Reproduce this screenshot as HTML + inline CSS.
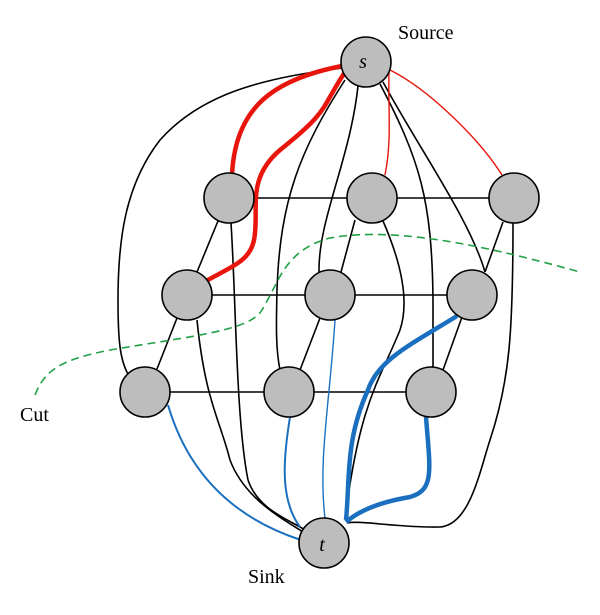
<!DOCTYPE html>
<html><head><style>body{margin:0;background:#fff}</style></head><body>
<svg width="600" height="610" viewBox="0 0 600 610" xmlns="http://www.w3.org/2000/svg" font-family="Liberation Serif, serif">
<g fill="none" stroke="#000" stroke-width="1.6">
<path d="M343,68 C260,78 200,95 160,140 C125,185 118,240 118,300 C118,340 120,360 128,374"/>
<path d="M345,80 C300,150 280,200 277,290 C276,330 276,350 280,370"/>
<path d="M358,86 C350,160 318,220 319,272"/>
<path d="M380,84 C420,160 432,200 433,300 L433,368"/>
<path d="M383,82 C420,150 470,220 485,272"/>
<path d="M231,223 C236,300 236,420 248,480 C258,510 290,520 305,530"/>
<path d="M197,320 C205,400 220,420 230,460 C245,500 285,520 303,532"/>
<path d="M383,221 C400,260 410,300 400,330 C380,380 360,400 345,519"/>
<path d="M513,222 C513,330 510,380 490,440 C480,470 470,525 440,527 C400,528 360,520 347,523"/>
<path d="M254,198 H347 M397,198 H489 M212,295 H305 M355,295 H447 M170,392 H264 M314,392 H406"/>
<path d="M218,221 L197,272 M355,220 L341,272 M503,222 L485,272 M177,318 L157,369 M320,318 L300,370 M462,317 L443,370"/>
</g>
<g fill="none" stroke="#e8150c">
<path d="M342,66 C270,80 235,110 232,175" stroke-width="4.5"/>
<path d="M345,72 C320,110 330,110 280,150 C245,180 260,210 254,240 C250,260 235,265 206,281" stroke-width="4.5"/>
<path d="M389,72 C388,110 392,140 385,175" stroke-width="1.4"/>
<path d="M390,70 C430,90 480,140 502,175" stroke-width="1.4"/>
</g>
<g fill="none" stroke="#1a6fbf">
<path d="M168,405 C190,480 240,520 301,540" stroke-width="2"/>
<path d="M290,417 C283,460 280,500 300,527" stroke-width="2"/>
<path d="M335,320 C330,400 318,460 325,518" stroke-width="1.4"/>
<path d="M457,316 C410,345 378,360 368,390 C345,440 350,480 346,520" stroke-width="4.5"/>
<path d="M426,417 C430,470 435,490 410,497 C380,502 360,510 346,522" stroke-width="4.5"/>
</g>
<path d="M35,395 C45,370 60,360 110,350 C200,335 250,330 262,310 C280,280 285,250 330,238 C400,225 500,250 580,272" fill="none" stroke="#21a047" stroke-width="1.6" stroke-dasharray="8,5"/>
<g fill="#bdbdbd" stroke="#000" stroke-width="1.6">
<circle cx="366" cy="62" r="25"/>
<circle cx="229" cy="198" r="25"/><circle cx="372" cy="198" r="25"/><circle cx="514" cy="198" r="25"/>
<circle cx="187" cy="295" r="25"/><circle cx="330" cy="295" r="25"/><circle cx="472" cy="295" r="25"/>
<circle cx="145" cy="392" r="25"/><circle cx="289" cy="392" r="25"/><circle cx="431" cy="392" r="25"/>
<circle cx="324" cy="543" r="25"/>
</g>
<text x="363" y="68" font-size="20" font-style="italic" text-anchor="middle">s</text>
<text x="322" y="551" font-size="20" font-style="italic" text-anchor="middle">t</text>
<text x="398" y="39" font-size="20">Source</text>
<text x="20" y="421" font-size="20">Cut</text>
<text x="248" y="583" font-size="20">Sink</text>
</svg>
</body></html>
